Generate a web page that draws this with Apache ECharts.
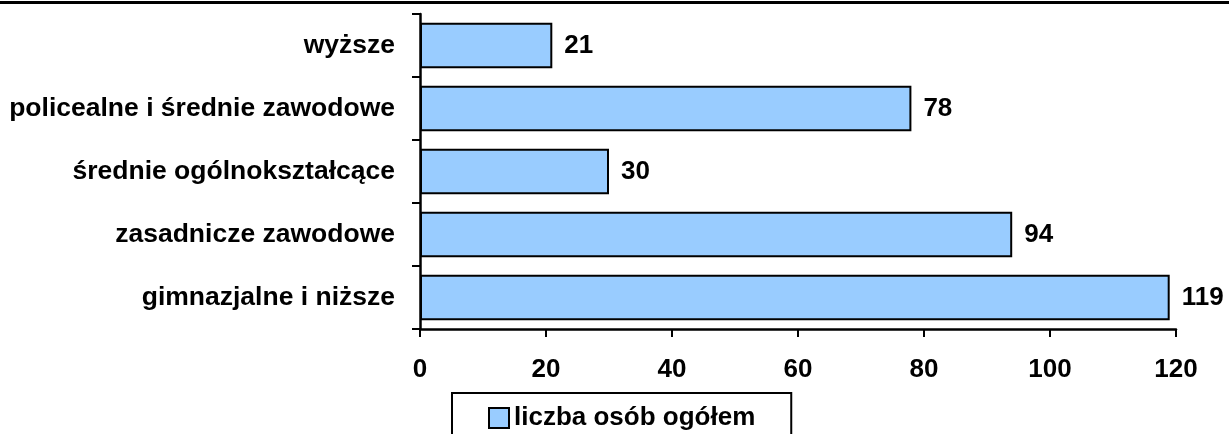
<!DOCTYPE html>
<html>
<head>
<meta charset="utf-8">
<script src="https://cdn.jsdelivr.net/npm/echarts@6/dist/echarts.min.js"></script>
<style>
  html, body { margin: 0; padding: 0; background: #fff; }
  #chart { width: 1229px; height: 434px; }
</style>
</head>
<body>
<div id="chart"></div>
<script>
const categories = [
  'gimnazjalne i niższe',
  'zasadnicze zawodowe',
  'średnie ogólnokształcące',
  'policealne i średnie zawodowe',
  'wyższe',
];
const counts = [119, 94, 30, 78, 21];
const seriesName = 'liczba osób ogółem';
const xTicks = { min: 0, max: 120, interval: 20 };

const font = "'Liberation Sans', Arial, sans-serif";
const chart = echarts.init(document.getElementById('chart'));

chart.setOption({
  animation: false,
  textStyle: { fontFamily: font },
  graphic: [
    {
      type: 'line',
      shape: { x1: 0, y1: 2.5, x2: 1229, y2: 2.5 },
      style: { stroke: '#000', lineWidth: 3 },
    },
  ],
  grid: { left: 420, top: 14, width: 756, height: 315, containLabel: false },
  legend: {
    left: 452,
    top: 393,
    data: [seriesName],
    icon: 'rect',
    itemWidth: 20,
    itemHeight: 20,
    padding: [12, 36, 24, 36],
    borderColor: '#000',
    borderWidth: 2,
    textStyle: { fontSize: 26, fontWeight: 'bold', color: '#000', fontFamily: font },
  },
  xAxis: {
    type: 'value',
    min: xTicks.min,
    max: xTicks.max,
    interval: xTicks.interval,
    axisLine: { show: true, lineStyle: { color: '#000', width: 2.5 } },
    axisTick: { show: true, length: 8, lineStyle: { color: '#000', width: 2 } },
    axisLabel: { color: '#000', fontSize: 26, fontWeight: 'bold', margin: 28 },
    splitLine: { show: false },
  },
  yAxis: {
    type: 'category',
    data: categories,
    axisLine: { show: true, lineStyle: { color: '#000', width: 2.5 } },
    axisTick: { show: true, length: 8, lineStyle: { color: '#000', width: 2 } },
    axisLabel: { color: '#000', fontSize: 26.5, fontWeight: 'bold', margin: 25 },
  },
  series: [
    {
      name: seriesName,
      type: 'bar',
      data: counts,
      barCategoryGap: '28%',
      itemStyle: { color: '#99ccff', borderColor: '#000', borderWidth: 2 },
      label: {
        show: true,
        position: 'right',
        distance: 12,
        color: '#000',
        fontSize: 26,
        fontWeight: 'bold',
      },
    },
  ],
});
</script>
</body>
</html>
